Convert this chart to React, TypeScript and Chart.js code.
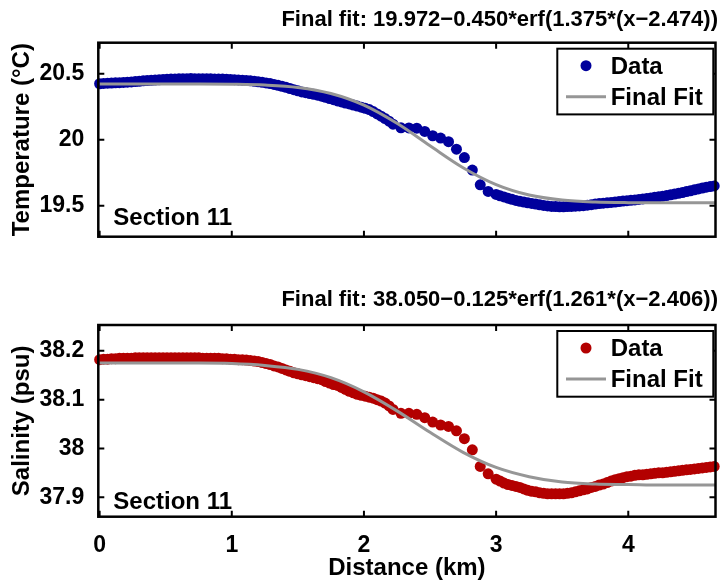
import React, { useEffect, useRef } from "react";
import { Chart, registerables } from "chart.js";

Chart.register(...registerables);

// ---------- data ----------
const DISTANCE_KM = [
  0, 0.03, 0.06, 0.09, 0.12, 0.15, 0.18, 0.21, 0.24, 0.27,
  0.3, 0.33, 0.36, 0.39, 0.42, 0.45, 0.48, 0.51, 0.54, 0.57,
  0.6, 0.63, 0.66, 0.69, 0.72, 0.75, 0.78, 0.81, 0.84, 0.87,
  0.9, 0.93, 0.96, 0.99, 1.02, 1.05, 1.08, 1.11, 1.14, 1.17,
  1.2, 1.23, 1.26, 1.29, 1.32, 1.35, 1.38, 1.41, 1.44, 1.47,
  1.5, 1.53, 1.56, 1.59, 1.62, 1.65, 1.68, 1.71, 1.74, 1.77,
  1.8, 1.83, 1.86, 1.89, 1.92, 1.95, 1.98, 2.01, 2.04, 2.07,
  2.1, 2.13, 2.16, 2.19, 2.22,
  2.28, 2.34, 2.4, 2.46, 2.52, 2.58, 2.64, 2.7, 2.76, 2.82, 2.88, 2.94,
  3.0, 3.03, 3.06, 3.09, 3.12, 3.15, 3.18, 3.21, 3.24, 3.27,
  3.3, 3.33, 3.36, 3.39, 3.42, 3.45, 3.48, 3.51, 3.54, 3.57,
  3.6, 3.63, 3.66, 3.69, 3.72, 3.75, 3.78, 3.81, 3.84, 3.87,
  3.9, 3.93, 3.96, 3.99, 4.02, 4.05, 4.08, 4.11, 4.14, 4.17,
  4.2, 4.23, 4.26, 4.29, 4.32, 4.35, 4.38, 4.41, 4.44, 4.47,
  4.5, 4.53, 4.56, 4.59, 4.62, 4.65,
];

const TEMPERATURE_C = [
  20.424, 20.426, 20.428, 20.429, 20.431, 20.432, 20.434, 20.436, 20.438, 20.441,
  20.443, 20.446, 20.448, 20.45, 20.452, 20.454, 20.456, 20.458, 20.459, 20.46,
  20.461, 20.462, 20.462, 20.463, 20.462, 20.462, 20.461, 20.461, 20.461, 20.46,
  20.46, 20.459, 20.458, 20.457, 20.455, 20.453, 20.451, 20.449, 20.446, 20.443,
  20.439, 20.435, 20.43, 20.425, 20.419, 20.412, 20.405, 20.397, 20.388, 20.379,
  20.37, 20.362, 20.356, 20.35, 20.344, 20.337, 20.33, 20.321, 20.312, 20.303,
  20.294, 20.286, 20.278, 20.271, 20.263, 20.255, 20.246, 20.238, 20.228, 20.213,
  20.195, 20.178, 20.16, 20.14, 20.118,
  20.09, 20.089, 20.087, 20.063, 20.03, 20.012, 19.985, 19.928, 19.865, 19.77, 19.658, 19.608,
  19.585, 19.575, 19.566, 19.557, 19.548, 19.54, 19.533, 19.527, 19.522, 19.517,
  19.512, 19.507, 19.502, 19.498, 19.494, 19.493, 19.492, 19.492, 19.493, 19.494,
  19.496, 19.498, 19.5, 19.504, 19.508, 19.512, 19.516, 19.519, 19.522, 19.525,
  19.528, 19.531, 19.535, 19.538, 19.541, 19.544, 19.547, 19.551, 19.555, 19.559,
  19.563, 19.567, 19.572, 19.577, 19.582, 19.588, 19.594, 19.6, 19.607, 19.613,
  19.62, 19.627, 19.634, 19.64, 19.645, 19.65,
];

const SALINITY_PSU = [
  38.182, 38.183, 38.183, 38.184, 38.184, 38.185, 38.185, 38.185, 38.185, 38.186,
  38.186, 38.186, 38.186, 38.186, 38.186, 38.186, 38.186, 38.186, 38.186, 38.186,
  38.186, 38.186, 38.186, 38.186, 38.186, 38.186, 38.185, 38.185, 38.185, 38.185,
  38.185, 38.184, 38.184, 38.183, 38.183, 38.182, 38.182, 38.181, 38.18, 38.179,
  38.178, 38.176, 38.174, 38.172, 38.169, 38.167, 38.164, 38.161, 38.158, 38.155,
  38.153, 38.151, 38.149, 38.147, 38.145, 38.143, 38.141, 38.137, 38.134, 38.131,
  38.129, 38.125, 38.121, 38.117, 38.114, 38.111, 38.109, 38.107, 38.105, 38.103,
  38.1, 38.097, 38.093, 38.087, 38.08,
  38.072, 38.072, 38.07, 38.063, 38.054, 38.048, 38.045, 38.036, 38.02, 37.997, 37.963, 37.948,
  37.937, 37.933, 37.929, 37.926, 37.924, 37.922, 37.92, 37.917, 37.914, 37.912,
  37.911, 37.909, 37.908, 37.907, 37.907, 37.907, 37.907, 37.907, 37.908, 37.909,
  37.911, 37.913, 37.915, 37.917, 37.92, 37.922, 37.925, 37.927, 37.93, 37.933,
  37.936, 37.938, 37.94, 37.942, 37.943, 37.945, 37.946, 37.946, 37.947, 37.948,
  37.949, 37.95, 37.95, 37.951, 37.952, 37.953, 37.954, 37.955, 37.956, 37.957,
  37.958, 37.959, 37.96, 37.961, 37.962, 37.963,
];

const FIT_DISTANCE_KM = [
  0, 0.25, 0.5, 0.75, 1, 1.25, 1.5, 1.75, 2, 2.25,
  2.5, 2.75, 3, 3.25, 3.5, 3.75, 4, 4.25, 4.5, 4.75,
];
const TEMPERATURE_FIT = [
  20.422, 20.422, 20.422, 20.422, 20.42, 20.414, 20.396, 20.35, 20.262, 20.124,
  19.954, 19.788, 19.66, 19.581, 19.543, 19.528, 19.523, 19.522, 19.522, 19.522,
];
const SALINITY_FIT = [
  38.175, 38.175, 38.175, 38.175, 38.174, 38.17, 38.162, 38.145, 38.116, 38.077,
  38.033, 37.992, 37.961, 37.942, 37.931, 37.927, 37.926, 37.925, 37.925, 37.925,
];

const X_TICKS = [0, 1, 2, 3, 4];
const X_TICK_LABELS = ["0", "1", "2", "3", "4"];
const TEMP_TICKS = [19.5, 20, 20.5];
const TEMP_TICK_LABELS = ["19.5", "20", "20.5"];
const SAL_TICKS = [37.9, 38, 38.1, 38.2];
const SAL_TICK_LABELS = ["37.9", "38", "38.1", "38.2"];

const TEMP_TITLE = "Final fit: 19.972\u22120.450*erf(1.375*(x\u22122.474))";
const SAL_TITLE = "Final fit: 38.050\u22120.125*erf(1.261*(x\u22122.406))";
const TEMP_AXIS_TITLE = "Temperature (\u00B0C)";
const SAL_AXIS_TITLE = "Salinity (psu)";
const X_AXIS_TITLE = "Distance (km)";
const SECTION_LABEL = "Section 11";
const LEGEND_LABELS = ["Data", "Final Fit"];

// ---------- styles ----------
const FONT = '"Liberation Sans", Arial, Helvetica, sans-serif';
const FIT_COLOR = "#969696";
const TEMP_COLOR = "#00009c";
const SAL_COLOR = "#b30000";
const X_MIN = -0.01;
const X_MAX = 4.66;
const PLOT_LEFT = 98.3;
const PLOT_RIGHT = 716.7;
const W = 721;

type PanelProps = {
  top: number;
  height: number;
  plotTop: number;
  plotBottom: number;
  ys: number[];
  fit: number[];
  color: string;
  yMin: number;
  yMax: number;
  yTicks: number[];
  yTickLabels: string[];
  yTitle: string;
  title: string;
  showX: boolean;
  sectionDy: number;
};

function Panel(p: PanelProps) {
  const ref = useRef<HTMLCanvasElement | null>(null);

  useEffect(() => {
    const canvas = ref.current;
    if (!canvas) return;
    const tickFont = { family: FONT, size: 23, weight: "bold" as const };
    const titleFont = { family: FONT, size: 24, weight: "bold" as const };

    const decor = {
      id: "decor",
      afterDatasetsDraw(chart: any) {
        const { ctx, chartArea: ca, scales } = chart;
        const xs = scales.x;
        const ys = scales.y;
        ctx.save();
        // inward ticks on all four sides
        ctx.strokeStyle = "#000";
        ctx.lineWidth = 2;
        ctx.beginPath();
        for (const v of X_TICKS) {
          const px = xs.getPixelForValue(v);
          ctx.moveTo(px, ca.bottom);
          ctx.lineTo(px, ca.bottom - 6);
          ctx.moveTo(px, ca.top);
          ctx.lineTo(px, ca.top + 6);
        }
        for (const v of p.yTicks) {
          const py = ys.getPixelForValue(v);
          ctx.moveTo(ca.left, py);
          ctx.lineTo(ca.left + 6, py);
          ctx.moveTo(ca.right, py);
          ctx.lineTo(ca.right - 6, py);
        }
        ctx.stroke();

        // legend
        const ll = 557.3;
        const lr = 713.3;
        const lt = ca.top + 6;
        const lh = 65.7;
        ctx.fillStyle = "#fff";
        ctx.fillRect(ll, lt, lr - ll, lh);
        ctx.lineWidth = 2;
        ctx.strokeStyle = "#000";
        ctx.strokeRect(ll, lt, lr - ll, lh);
        ctx.fillStyle = p.color;
        ctx.beginPath();
        ctx.arc(586, lt + 17, 5.5, 0, Math.PI * 2);
        ctx.fill();
        ctx.strokeStyle = FIT_COLOR;
        ctx.lineWidth = 3;
        ctx.beginPath();
        ctx.moveTo(566, lt + 48);
        ctx.lineTo(606, lt + 48);
        ctx.stroke();
        ctx.fillStyle = "#000";
        ctx.font = `bold 24px ${FONT}`;
        ctx.textBaseline = "middle";
        ctx.textAlign = "left";
        ctx.fillText(LEGEND_LABELS[0], 610.7, lt + 18.7);
        ctx.fillText(LEGEND_LABELS[1], 610.7, lt + 49.5);

        // section label
        ctx.fillText(SECTION_LABEL, 113.3, ca.bottom - p.sectionDy);

        // panel title
        ctx.textAlign = "right";
        ctx.font = `bold 22px ${FONT}`;
        ctx.fillText(p.title, 718, 20);

        // frame
        ctx.strokeStyle = "#000";
        ctx.lineWidth = 2.5;
        ctx.strokeRect(ca.left, ca.top, ca.right - ca.left, ca.bottom - ca.top);
        ctx.restore();
      },
    };

    const pts = DISTANCE_KM.map((x, i) => ({ x, y: p.ys[i] }));
    const fitPts = FIT_DISTANCE_KM.map((x, i) => ({ x, y: p.fit[i] }));

    const chart = new Chart(canvas, {
      type: "scatter",
      data: {
        datasets: [
          {
            type: "line",
            label: LEGEND_LABELS[1],
            data: fitPts,
            borderColor: FIT_COLOR,
            borderWidth: 3,
            pointRadius: 0,
            cubicInterpolationMode: "monotone",
            fill: false,
            order: 0,
          } as any,
          {
            type: "scatter",
            label: LEGEND_LABELS[0],
            data: pts,
            pointRadius: 5.5,
            pointBackgroundColor: p.color,
            pointBorderWidth: 0,
            backgroundColor: p.color,
            borderColor: p.color,
            clip: false,
            order: 1,
          } as any,
        ],
      },
      plugins: [decor],
      options: {
        responsive: false,
        animation: false,
        devicePixelRatio: 1,
        layout: { padding: { left: 0, right: W - PLOT_RIGHT, top: p.plotTop, bottom: 0 } },
        plugins: {
          legend: { display: false },
          tooltip: { enabled: false },
          title: { display: false },
        },
        scales: {
          x: {
            type: "linear",
            min: X_MIN,
            max: X_MAX,
            grid: { display: false, drawTicks: false },
            border: { display: false },
            afterBuildTicks: (s: any) => {
              s.ticks = X_TICKS.map((v) => ({ value: v }));
            },
            afterFit: (s: any) => {
              s.height = p.height - p.plotBottom;
            },
            ticks: {
              display: p.showX,
              padding: 15.5,
              font: tickFont,
              color: "#000",
              maxRotation: 0,
              autoSkip: false,
              callback: (_v: any, i: number) => X_TICK_LABELS[i],
            },
            title: {
              display: p.showX,
              text: X_AXIS_TITLE,
              font: titleFont,
              color: "#000",
              padding: { top: 0, bottom: 0.6 },
            },
          },
          y: {
            type: "linear",
            min: p.yMin,
            max: p.yMax,
            grid: { display: false, drawTicks: false },
            border: { display: false },
            afterBuildTicks: (s: any) => {
              s.ticks = p.yTicks.map((v) => ({ value: v }));
            },
            afterFit: (s: any) => {
              s.width = PLOT_LEFT;
            },
            ticks: {
              padding: 14,
              font: tickFont,
              color: "#000",
              autoSkip: false,
              callback: (_v: any, i: number) => p.yTickLabels[i],
            },
            title: {
              display: true,
              text: p.yTitle,
              font: titleFont,
              color: "#000",
              padding: { top: 7.6, bottom: 0 },
            },
          },
        },
      } as any,
    });
    return () => chart.destroy();
  }, []);

  return (
    <canvas
      ref={ref}
      width={W}
      height={p.height}
      style={{ position: "absolute", left: 0, top: p.top, width: W, height: p.height, display: "block" }}
    />
  );
}

export default function App() {
  return (
    <div
      style={{
        position: "absolute",
        left: 0,
        top: 0,
        width: W,
        height: 583,
        background: "#fff",
        overflow: "hidden",
      }}
    >
      <Panel
        top={0}
        height={280}
        plotTop={42.7}
        plotBottom={236.7}
        ys={TEMPERATURE_C}
        fit={TEMPERATURE_FIT}
        color={TEMP_COLOR}
        yMin={19.265}
        yMax={20.735}
        yTicks={TEMP_TICKS}
        yTickLabels={TEMP_TICK_LABELS}
        yTitle={TEMP_AXIS_TITLE}
        title={TEMP_TITLE}
        showX={false}
        sectionDy={18.4}
      />
      <Panel
        top={280}
        height={303}
        plotTop={45}
        plotBottom={236.7}
        ys={SALINITY_PSU}
        fit={SALINITY_FIT}
        color={SAL_COLOR}
        yMin={37.86}
        yMax={38.253}
        yTicks={SAL_TICKS}
        yTickLabels={SAL_TICK_LABELS}
        yTitle={SAL_AXIS_TITLE}
        title={SAL_TITLE}
        showX={true}
        sectionDy={14.2}
      />
    </div>
  );
}
